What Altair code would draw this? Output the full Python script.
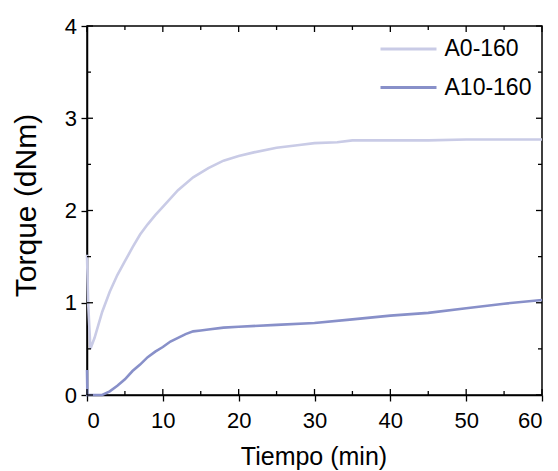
import altair as alt
import pandas as pd

# --- data ---
series_names = ["A0-160", "A10-160"]
series_colors = ["#c9cbe6", "#8890c9"]

t_a0 = [0, 0.15, 0.45, 1, 2, 3, 4, 5, 6, 7, 8, 9, 10, 12, 14, 16, 18, 20, 22, 25,
        28, 30, 33, 35, 40, 45, 50, 55, 60]
y_a0 = [1.52, 1.0, 0.5, 0.62, 0.9, 1.12, 1.3, 1.45, 1.6, 1.74, 1.85, 1.95, 2.04, 2.22,
        2.36, 2.46, 2.54, 2.59, 2.63, 2.68, 2.71, 2.73, 2.74, 2.76, 2.76, 2.76, 2.77,
        2.77, 2.77]

t_a10 = [0, 0.05, 2, 3, 4, 5, 6, 7, 8, 9, 10, 11, 12, 13, 14, 15, 16, 18, 20, 25, 30,
         35, 40, 45, 50, 55, 60]
y_a10 = [0.27, 0, 0, 0.04, 0.1, 0.17, 0.26, 0.33, 0.41, 0.47, 0.52, 0.58, 0.62, 0.66,
         0.69, 0.7, 0.71, 0.73, 0.74, 0.76, 0.78, 0.82, 0.86, 0.89, 0.94, 0.99, 1.03]

x_major = [0, 10, 20, 30, 40, 50, 60]
x_minor = [5, 15, 25, 35, 45, 55]
y_major = [0, 1, 2, 3, 4]
y_minor = [0.5, 1.5, 2.5, 3.5]

W, H = 455, 369
MAJ, MIN = 6, 4

df = pd.concat([
    pd.DataFrame({"t": t_a0, "torque": y_a0, "serie": series_names[0], "o": range(len(t_a0))}),
    pd.DataFrame({"t": t_a10, "torque": y_a10, "serie": series_names[1], "o": range(len(t_a10))}),
])

xscale = alt.Scale(domain=[0, 60], nice=False, zero=False)
yscale = alt.Scale(domain=[0, 4], nice=False, zero=False)

lines = alt.Chart(df).mark_line(strokeWidth=2.6).encode(
    x=alt.X("t:Q", scale=xscale, title="Tiempo (min)",
            axis=alt.Axis(values=x_major, format="d", labelPadding=9,
                          titleX=W / 2 - 1, titleY=69, titleBaseline="alphabetic",
                          titleAlign="center", titleFontSize=25)),
    y=alt.Y("torque:Q", scale=yscale, title="Torque (dNm)",
            axis=alt.Axis(values=y_major, format="d", labelPadding=4.5,
                          titleX=-51.5, titleY=179, titleBaseline="alphabetic",
                          titleAlign="center", titleAngle=270, titleFontSize=30)),
    color=alt.Color("serie:N", scale=alt.Scale(domain=series_names, range=series_colors),
                    legend=alt.Legend(title=None, orient="none", legendX=292, legendY=4,
                                      symbolType="stroke", symbolSize=3136,
                                      symbolStrokeWidth=3, labelFontSize=23,
                                      labelOffset=6.5, rowPadding=0.5, clipHeight=38,
                                      padding=0)),
    order="o:Q",
)

xmaj = pd.DataFrame({"t": x_major})
xmin = pd.DataFrame({"t": x_minor})
ymaj = pd.DataFrame({"torque": y_major})
ymin = pd.DataFrame({"torque": y_minor})

def xticks(d, y0, y1):
    return alt.Chart(d).mark_rule(color="black", strokeWidth=1.3).encode(
        x=alt.X("t:Q", scale=xscale), y=alt.value(y0), y2=alt.value(y1))

def yticks(d, x0, x1):
    return alt.Chart(d).mark_rule(color="black", strokeWidth=1.3).encode(
        y=alt.Y("torque:Q", scale=yscale), x=alt.value(x0), x2=alt.value(x1))

ticks = [
    xticks(xmaj, H, H - MAJ), xticks(xmaj, 0, MAJ),
    xticks(xmin, H, H - MIN), xticks(xmin, 0, MIN),
    yticks(ymaj, 0, MAJ), yticks(ymaj, W, W - MAJ),
    yticks(ymin, 0, MIN), yticks(ymin, W, W - MIN),
]

chart = alt.layer(lines, *ticks).properties(
    width=W, height=H,
    autosize=alt.AutoSizeParams(type="none"),
    padding={"left": 79, "top": 18, "right": 8, "bottom": 76},
).configure_view(
    stroke="black", strokeWidth=1.5
).configure_axis(
    domainColor="black", domainWidth=1.5, tickColor="black", tickWidth=1.3,
    tickSize=MAJ, grid=False, labelFont="Liberation Sans", titleFont="Liberation Sans",
    labelColor="black", titleColor="black", labelFontSize=22,
    titleFontWeight="normal"
).configure_legend(
    labelFont="Liberation Sans", labelColor="black"
)

chart.save("out.html", embed_options={"renderer": "svg", "actions": False})
